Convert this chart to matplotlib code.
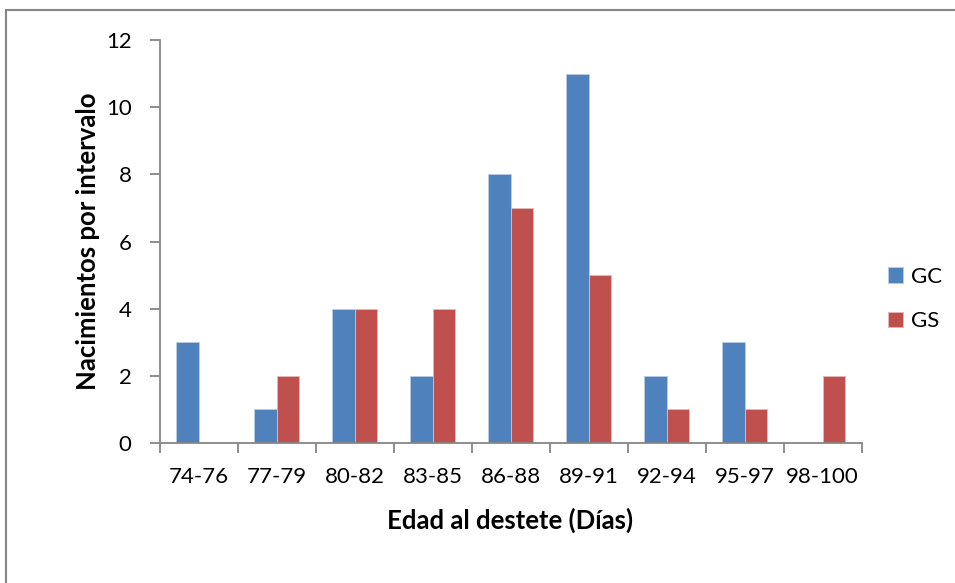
import numpy as np
import matplotlib.pyplot as plt
from matplotlib.patches import Rectangle

# nacimientos por intervalo de edad al destete
intervalos = ['74-76', '77-79', '80-82', '83-85', '86-88', '89-91', '92-94', '95-97', '98-100']
gc = [3, 1, 4, 2, 8, 11, 2, 3, 0]
gs = [0, 2, 4, 4, 7, 5, 1, 1, 2]

plt.rcParams['font.family'] = ['Lato', 'DejaVu Sans']

fig = plt.figure(figsize=(9.55, 5.83), dpi=100)
ax = fig.add_axes([159.5 / 955, 1 - 443 / 583, 702 / 955, 403 / 583])

x = np.arange(len(intervalos))
w = 1 / 3.5
ax.bar(x - w / 2, gc, w, color='#4F81BD', edgecolor='#B9CDE5', linewidth=0.6, label='GC')
ax.bar(x + w / 2, gs, w, color='#C0504D', edgecolor='#E6B9B8', linewidth=0.6, label='GS')

ax.set_xlim(-0.5, len(intervalos) - 0.5)
ax.set_ylim(0, 12)
ax.set_yticks(range(0, 13, 2))
ax.set_xticks(x)
ax.set_xticklabels(intervalos)
ax.set_xticks(np.arange(-0.5, len(intervalos)), minor=True)
ax.tick_params(axis='x', which='major', length=0, pad=17, labelsize=16)
ax.tick_params(axis='x', which='minor', length=7, width=1.3, color='#868686')
ax.tick_params(axis='y', length=7, width=1.3, color='#868686', labelsize=16, pad=13)

for side in ['top', 'right']:
    ax.spines[side].set_visible(False)
for side in ['left', 'bottom']:
    ax.spines[side].set_color('#868686')
    ax.spines[side].set_linewidth(1.3)

ax.set_xlabel('Edad al destete (Días)', fontsize=18.5, fontweight='bold', va='center')
ax.set_ylabel('Nacimientos por intervalo', fontsize=18.5, fontweight='bold', va='center')
ax.xaxis.set_label_coords(0.5, (443 - 520) / 403)
ax.yaxis.set_label_coords((88 - 159.5) / 702, 0.5)

fig.legend(loc='center left', bbox_to_anchor=(888 / 955, 1 - 299 / 583), frameon=False, fontsize=16,
           handlelength=0.68, handleheight=0.68, handletextpad=0.35, labelspacing=1.1,
           borderpad=0, borderaxespad=0)

# marco del área del gráfico
fig.patches.append(Rectangle((6 / 955, -0.1), 1.1, 1 - 10 / 583 + 0.1, transform=fig.transFigure,
                             fill=False, edgecolor='#868686', linewidth=1.5))

fig.savefig('out.png', dpi=100)
